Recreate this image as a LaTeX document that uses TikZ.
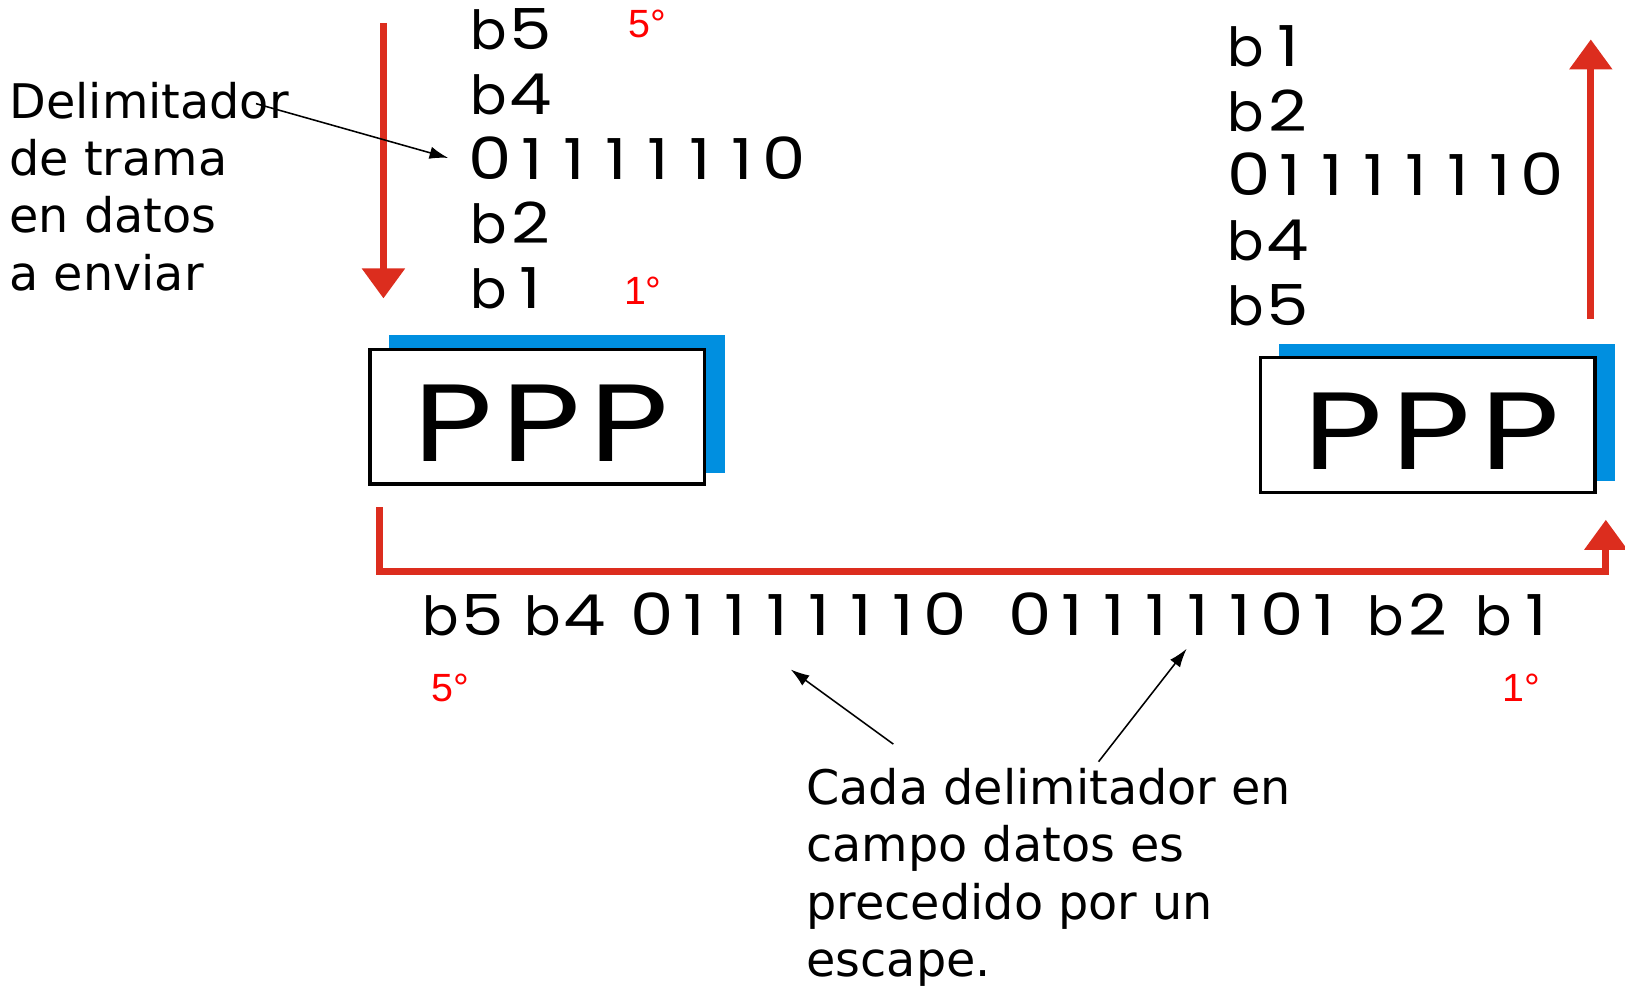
\documentclass[tikz,border=0pt]{standalone}
\usepackage{fontspec}
\setmainfont{DejaVu Sans}
\newfontfamily\bitfont{Poppins}
\newfontfamily\degfont{Liberation Sans}
\usetikzlibrary{arrows.meta,backgrounds}
\definecolor{pppred}{RGB}{220,45,30}
\definecolor{pppblue}{RGB}{0,143,224}
\newcommand\dg[1]{\makebox[40.5pt]{\scalebox{1.25}[1.05]{#1}}}
\newcommand\bb{\makebox[40.5pt]{b}}
\newcommand\zr{\makebox[40.5pt]{\scalebox{1.28}[1.08]{0}}}
\newcommand\flagbits{\zr\dg1\dg1\dg1\dg1\dg1\dg1\zr}
\newcommand\escbits{\zr\dg1\dg1\dg1\dg1\dg1\zr\dg1}
\newcommand\bitsize{\fontsize{52}{52}\selectfont}
\newcommand\pcell{\makebox[85pt]{\scalebox{1.25}[1]{P}}}
\begin{document}
\begin{tikzpicture}[x=1pt,y=-1pt,
 bits/.style={font=\bitfont\bitsize, inner sep=0pt, anchor=base west},
 deg/.style={font=\degfont\fontsize{38}{38}\selectfont, text=red, inner sep=0pt, anchor=base west},
 note/.style={font=\fontsize{46}{55.3}\selectfont, align=left, inner sep=0pt, anchor=north west},
 pppbox/.style={draw=black, line width=3pt, fill=white, minimum width=323pt, minimum height=130pt, inner sep=0pt},
 ppptext/.style={font=\bitfont\fontsize{106}{106}\selectfont, inner sep=0pt},
 shadow/.style={fill=pppblue},
 flow/.style={draw=pppred, line width=7pt, -{Triangle[length=29pt,width=40pt]}},
 ptr/.style={draw=black, line width=1.5pt, -{Latex[length=18pt,width=12pt]}}
]
\useasboundingbox (0,0) rectangle (1568,951);

% left label
\node[note] (lbl) at (9,79) {Delimitador\\de trama\\en datos\\a enviar};

% left stack (data to send)
\node[bits] (L5) at (451,47.5) {\bb\dg{5}};
\node[bits] (L4) at (451,110) {\bb\dg{4}};
\node[bits] (Lflag) at (452.5,173) {\flagbits};
\node[bits] (L2) at (451,235) {\bb\dg{2}};
\node[bits] (L1) at (451,298) {\bb\dg{1}};

% right stack (received)
\node[bits] (R1) at (1182,64) {\bb\dg{1}};
\node[bits] (R2) at (1182,127) {\bb\dg{2}};
\node[bits] (Rflag) at (1184.5,189) {\flagbits};
\node[bits] (R4) at (1182,251) {\bb\dg{4}};
\node[bits] (R5) at (1182,314) {\bb\dg{5}};

% order marks
\node[deg] (d5top) at (606,36) {5°};
\node[deg] (d1top) at (602,294) {1°};
\node[deg] (d5bot) at (416,677) {5°};
\node[deg] (d1bot) at (1450,677) {1°};

% PPP boxes
\node[pppbox] (boxL) at (518.5,402) {};
\node[pppbox] (boxR) at (1377.5,410) {};
\begin{scope}[on background layer]
\fill[shadow] ([xshift=20pt,yshift=12pt]boxL.south west) rectangle ([xshift=18pt,yshift=12pt]boxL.north east);
\fill[shadow] ([xshift=20pt,yshift=12pt]boxR.south west) rectangle ([xshift=18pt,yshift=12pt]boxR.north east);
\end{scope}
\node[ppptext] (pppL) at ([xshift=4pt,yshift=-6pt]boxL.center) {\pcell\pcell\pcell};
\node[ppptext] (pppR) at ([xshift=4pt,yshift=-6pt]boxR.center) {\pcell\pcell\pcell};

% red flow arrows
\coordinate (inTop) at (370,22);
\coordinate (inEnd) at (370,288);
\draw[flow] (inTop) -- (inEnd);
\coordinate (outStart) at (1535,308);
\coordinate (outEnd) at (1535,38);
\draw[flow] (outStart) -- (outEnd);
\draw[flow] ([xshift=11pt,yshift=-21pt]boxL.south west) -- ++(0,62) -| ([xshift=9pt,yshift=-25pt]boxR.south east);

% transmitted sequence
\node[bits] (B5) at (405,613) {\bb\dg{5}};
\node[bits] (B4) at (503,613) {\bb\dg{4}};
\node[bits] (Bflag) at (608.5,613) {\flagbits};
\node[bits] (Besc) at (974,613) {\escbits};
\node[bits] (B2) at (1317,613) {\bb\dg{2}};
\node[bits] (B1) at (1421,613) {\bb\dg{1}};

% bottom note
\node[note] (esc) at (778,741) {Cada delimitador en\\campo datos es\\precedido por un\\escape.};

% pointers
\coordinate (dTail) at (247,100);
\draw[ptr] (dTail) -- ([xshift=-20pt]Lflag.west);
\coordinate (p1tail) at (862,718);
\coordinate (p1tip) at (763,646);
\draw[ptr] (p1tail) -- (p1tip);
\coordinate (p2tail) at (1060,735);
\coordinate (p2tip) at (1145,626);
\draw[ptr] (p2tail) -- (p2tip);
\end{tikzpicture}
\end{document}
